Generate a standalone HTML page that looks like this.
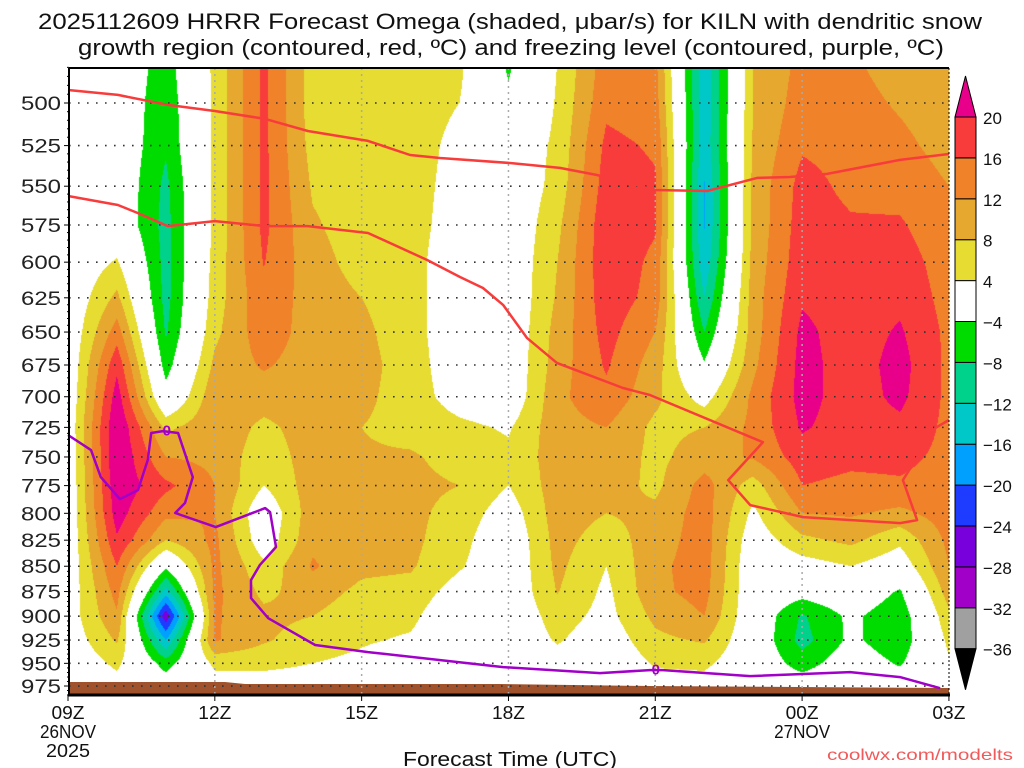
<!DOCTYPE html>
<html><head><meta charset="utf-8">
<style>
html,body{margin:0;padding:0;background:#fff;}
#wrap{position:relative;width:1024px;height:768px;overflow:hidden;background:#fff;}
#cv{position:absolute;left:0;top:0;}
#ov{position:absolute;left:0;top:0;}
text{font-family:"Liberation Sans",sans-serif;}
</style></head>
<body>
<div id="wrap">
<canvas id="cv" width="1024" height="768"></canvas>
<svg id="ov" width="1024" height="768" xmlns="http://www.w3.org/2000/svg"></svg>
</div>
<script>
// ---- data ----
const pressureLevels = [475,500,525,550,575,600,625,650,675,700,725,750,775,800,825,850,875,900,925,950,975,1000];
const hourLabels = ["09Z","12Z","15Z","18Z","21Z","00Z","03Z"];
const yTickLabels = [500,525,550,575,600,625,650,675,700,725,750,775,800,825,850,875,900,925,950,975];
const colorLevels = [-36,-32,-28,-24,-20,-16,-12,-8,-4,4,8,12,16,20];
const bandColors = ["#000000","#a0a0a0","#a000c8","#7800dc","#1e3cff","#00a0ff","#00c8c8","#00d28c","#00dc00","#ffffff","#e6dc32","#e6a82e","#f0822a","#f83c3c","#e8008a"];
const omegaH0  = [0,0,0,0,0,0,0,0,0,0,0.5,0,0,0,0,0.5,1,1.5,1,0,0,0];
const omegaH1  = [0,0,0,0,0,4.5,9,14,19,22,24,24,23,22,19.5,16,13.5,11.5,8.5,5,2,0];
const omegaH2  = [-6,-7,-7.5,-9,-9.5,-9.5,-9.5,-8.5,-6,-2,7,12,17,13,8,-3,-14,-27,-16,-6,-1,0];
const omegaH3  = [5,5,5,5,5,5.5,6,7,9,11,11,11,12,12,13,13,13,12.5,12.5,5,2,0];
const omegaH4  = [17,17,17,17,17,16.2,15,14.5,12.5,10,7,5.5,4,0,1,5,7,9,8.5,5,2,0];
const omegaH5  = [6,6,6.5,7.5,8.5,9.5,10,10,10,10,10,10,10,10.5,11,12.5,10,8,6,4,2,0];
const omegaH6  = [6,6,6,6,6,6.5,8,9,9.5,9,8,8.5,9.5,10,10,9,7,5.5,4.5,3,1,0];
const omegaH7  = [5.5,5.5,5.5,5.5,5.5,5.5,5.5,5.5,6,6,6.5,8.5,9,9,9,8.5,6.5,5,3.5,1,0,0];
const omegaH8  = [5,4,3,2.5,2,1,1,1,1,2,5,6.5,8,6.5,5.5,4.5,2,0,0,0,0,0];
const omegaH9  = [-5,-3,0,0,0,0,0,0,0,0,3.5,5,4,1.5,0,0,0,0,0,0,0,0];
const omegaH10 = [4,4.5,5,5.5,7,8,8.5,9.5,10,11,10.5,10,10,10,9.5,9,8.2,6,4.5,2,0,0];
const omegaH11 = [14,15,17,18,19,19,18.5,17.5,16.5,15,12,10.5,10,8,6,4,3,2.5,1,0,0,0];
const omegaH12 = [13,14,15.5,16.5,16.5,15,14.5,12,10,9,7,7,7,9,10,11,11,9,7,4.5,2,0];
const omegaH13 = [-15,-15,-15,-16.3,-16.3,-15,-12,-8,-3.5,2,8,10,13.5,14,14,14,13.5,12,8.5,5,2,0];
const omegaH14 = [8,8,8.5,9,9,9.5,10,10,11,13,13,12.5,6,3,1,0,0,0,0,0,0,0];
const omegaH15 = [13,14,15.5,17.5,18,18.5,19.5,21,21.5,21.5,20.5,18,16,12,7,2,-2,-8.5,-9.5,-6,-1,0];
const omegaH16 = [12.5,13.5,14.5,15,16.5,18,18,18,18,18,18,17,15,12.5,9,4,0,-3,-3,-1,0,0];
const omegaH17 = [10,11.5,13,14.5,16.5,18,19,20.5,21.5,21,19,17,15.5,11,5,1,-4.5,-7,-7,-4.5,-1,0];
const omegaH18 = [9,9.5,10.5,12,13,14,14.5,15,15,15,15,15,14.5,14,13,12,10,7,5,3.5,1,0];
const omegaByHour = [omegaH0,omegaH1,omegaH2,omegaH3,omegaH4,omegaH5,omegaH6,omegaH7,omegaH8,omegaH9,omegaH10,omegaH11,omegaH12,omegaH13,omegaH14,omegaH15,omegaH16,omegaH17,omegaH18];
// contour traces (forecast hour, pressure hPa)
const dgzUpperHours = [0,1.02,2.04,3.0,4.03,4.9,6.13,6.99,7.6,9.03,10.05,10.81,11.99,13.06,14.08,14.75,15.51,17.0,18.0];
const dgzUpperPres  = [492.6,495.4,501.1,504.6,509.2,516.3,522.2,530.7,532.5,535.6,538.6,543.0,552.4,553.0,544.8,544.2,542.3,533.7,530.1];
const dgzLowerHours = [0,1.02,1.43,2.04,3.0,4.03,4.9,6.13,7.34,8.01,8.48,8.89,9.38,9.99,11.34,11.89,14.2,13.49,13.94,15.02,17.0,17.35,17.06,17.72,18.0];
const dgzLowerPres  = [556.2,562.0,567.2,575.7,572.4,575.7,575.7,580.3,598.5,610.3,618.0,630.1,654.5,673.4,693.0,698.6,737.4,770.1,792.5,803.5,809.0,806.2,770.1,725.6,718.9];
const frzHours = [0,0.47,0.67,1.06,1.43,1.63,1.7,1.94,2.25,2.55,2.39,2.19,3.02,4.03,4.13,4.25,3.92,3.74,3.74,4.09,5.05,6.13,8.89,10.87,11.89,12.16,13.94,15.98,17.0,17.82];
const frzPres  = [731.4,744.1,767.5,787.0,778.9,752.5,729.7,728.1,729.7,767.5,790.6,799.7,812.7,795.2,798.9,831.5,848.9,863.6,881.6,902.1,930.3,937.9,954.1,960.7,957.4,957.4,964.0,959.6,965.1,977.4];
const frzLabelHours = [2.02,12.01];
const frzLabelPres = [726.6,955.8];

// ---- geometry ----
const X0 = 68, PXH = 48.94;
function xOf(h){ return X0 + PXH*h; }
function yOf(p){ return 103 + 873*Math.log(p/500); }
const PL = 69, PR = 949, PT = 68, PB = 695;

// ---- shading ----
(function(){
  const cv = document.getElementById('cv');
  const ctx = cv.getContext('2d');
  const W = PR-PL, H = PB-PT;
  const img = ctx.createImageData(W, H);
  const rowY = pressureLevels.map(yOf);
  const rgb = bandColors.map(c=>[parseInt(c.substr(1,2),16),parseInt(c.substr(3,2),16),parseInt(c.substr(5,2),16)]);
  const nH = omegaByHour.length;
  for (let py=0; py<H; py++){
    const y = PT+py+0.5;
    let j=0; while (j<rowY.length-2 && rowY[j+1]<y) j++;
    const t = Math.max(0,Math.min(1,(y-rowY[j])/(rowY[j+1]-rowY[j])));
    for (let px=0; px<W; px++){
      const x = PL+px+0.5;
      let hf = (x-X0)/PXH; if (hf<0) hf=0; if (hf>nH-1) hf=nH-1;
      let i = Math.floor(hf); if (i>=nH-1) i=nH-2;
      const s = hf-i;
      const a = omegaByHour[i][j]*(1-t)+omegaByHour[i][j+1]*t;
      const b = omegaByHour[i+1][j]*(1-t)+omegaByHour[i+1][j+1]*t;
      const v = a*(1-s)+b*s;
      let k=0; while (k<colorLevels.length && v>=colorLevels[k]) k++;
      const c = rgb[k]; const o=(py*W+px)*4;
      img.data[o]=c[0]; img.data[o+1]=c[1]; img.data[o+2]=c[2]; img.data[o+3]=255;
    }
  }
  ctx.putImageData(img, PL, PT);
})();

// ---- overlay ----
const NS = "http://www.w3.org/2000/svg";
const svg = document.getElementById('ov');
function mk(tag, attrs, parent){
  const e = document.createElementNS(NS, tag);
  for (const k in attrs) e.setAttribute(k, attrs[k]);
  (parent||svg).appendChild(e); return e;
}
function txt(s, attrs){ const e = mk('text', attrs); e.textContent = s; return e; }

// ground
let g = mk('polygon',{points:"69,682 225,682 245,684 500,684 650,686 949,688 949,695 69,695",fill:"#a0522d"});



// horizontal dotted grid
yTickLabels.forEach(p=>{
  const y = yOf(p);
  const l = mk('line',{x1:PL,x2:PR,y1:y,y2:y,stroke:"#333",'stroke-width':1.6,'stroke-dasharray':"1.6 7.4"});
  
  
});
// vertical dotted grid
[3,6,9,12,15].forEach(h=>{
  const x = xOf(h);
  const l = mk('line',{x1:x,x2:x,y1:PT,y2:PB,stroke:"#aaa",'stroke-width':1.5,'stroke-dasharray':"2 4"});
  
  
});

// contours
function poly(hs, ps, color, w, name){
  const pts = hs.map((h,i)=>xOf(h).toFixed(1)+","+yOf(ps[i]).toFixed(1)).join(" ");
  const e = mk('polyline',{points:pts,fill:"none",stroke:color,'stroke-width':w,'stroke-linejoin':"round"});
  
  
}
poly(dgzUpperHours,dgzUpperPres,"#f83c3c",2.5,'dgz-upper-contour');
poly(dgzLowerHours,dgzLowerPres,"#f83c3c",2.5,'dgz-lower-contour');
poly(frzHours,frzPres,"#a000c8",2.5,'freezing-level-contour');
frzLabelHours.forEach((h,i)=>{
  const t = txt("0",{x:xOf(h),y:yOf(frzLabelPres[i])+6,'font-size':15,'font-weight':'bold',fill:"#a000c8",'text-anchor':"middle"});
  
  
});

// frame
let fr = mk('line',{x1:PL,x2:PR,y1:PT,y2:PT,stroke:"#000",'stroke-width':2});
 
fr = mk('line',{x1:PR,x2:PR,y1:PT,y2:PB,stroke:"#000",'stroke-width':1,'stroke-dasharray':"2 2"});
 
fr = mk('line',{x1:PL,x2:PL,y1:PT,y2:PB+1,stroke:"#000",'stroke-width':2});
 
fr = mk('line',{x1:PL-1,x2:PR+1,y1:PB,y2:PB,stroke:"#000",'stroke-width':3});
 

// y ticks and labels
yTickLabels.forEach(p=>{
  const y = yOf(p);
  const tk = mk('line',{x1:PL-5,x2:PL,y1:y,y2:y,stroke:"#000",'stroke-width':1});
   
  const t = txt(String(p),{x:61,y:y+7,'font-size':19,fill:"#222",'text-anchor':"end",textLength:40,lengthAdjust:"spacingAndGlyphs"});
   
});
for (let p=480;p<=985;p+=5){ if (p%25===0) continue;
  const y=yOf(p); const tk=mk('line',{x1:PL-2,x2:PL,y1:y,y2:y,stroke:"#000",'stroke-width':1});
    }

// x ticks and labels
hourLabels.forEach((lab,i)=>{
  const x = xOf(i*3);
  const tk = mk('line',{x1:x,x2:x,y1:PB,y2:PB+6,stroke:"#000",'stroke-width':1});
   
  const t = txt(lab,{x:x,y:719,'font-size':18,fill:"#111",'text-anchor':"middle",textLength:33,lengthAdjust:"spacingAndGlyphs"});
   
});
let t;
t = txt("26NOV",{x:xOf(0),y:738,'font-size':18,fill:"#111",'text-anchor':"middle",textLength:56,lengthAdjust:"spacingAndGlyphs"});
 
t = txt("2025",{x:xOf(0),y:757,'font-size':18,fill:"#111",'text-anchor':"middle",textLength:44,lengthAdjust:"spacingAndGlyphs"});
 
t = txt("27NOV",{x:xOf(15),y:738,'font-size':18,fill:"#111",'text-anchor':"middle",textLength:56,lengthAdjust:"spacingAndGlyphs"});
 

// titles
t = txt("2025112609 HRRR Forecast Omega (shaded, \u03bcbar/s) for KILN with dendritic snow",{x:510,y:29,'font-size':22,fill:"#111",'text-anchor':"middle",textLength:944,lengthAdjust:"spacingAndGlyphs"});
 
t = txt("growth region (contoured, red, \u00baC) and freezing level (contoured, purple, \u00baC)",{x:511,y:55,'font-size':22,fill:"#111",'text-anchor':"middle",textLength:866,lengthAdjust:"spacingAndGlyphs"});
 
t = txt("Forecast Time (UTC)",{x:510,y:766,'font-size':20,fill:"#111",'text-anchor':"middle",textLength:214,lengthAdjust:"spacingAndGlyphs"});
 
t = txt("coolwx.com/modelts",{x:1013,y:760,'font-size':16,fill:"#f05a5a",'text-anchor':"end",textLength:186,lengthAdjust:"spacingAndGlyphs"});
 

// colorbar
const CBX = 955, CBW = 21, CBT = 117, CBS = 40.9;
for (let k=1;k<bandColors.length-1;k++){
  const top = CBT + (bandColors.length-2-k)*CBS;
  const r = mk('rect',{x:CBX,y:top,width:CBW,height:CBS,fill:bandColors[k],stroke:"#000",'stroke-width':1});
   
}
let tri = mk('polygon',{points:`${CBX},${CBT} ${CBX+CBW},${CBT} ${CBX+CBW/2},${CBT-41}`,fill:bandColors[bandColors.length-1],stroke:"#000",'stroke-width':1});
 
const cbBot = CBT + (bandColors.length-2)*CBS;
tri = mk('polygon',{points:`${CBX},${cbBot} ${CBX+CBW},${cbBot} ${CBX+CBW/2},${cbBot+41}`,fill:bandColors[0],stroke:"#000",'stroke-width':1});
 
colorLevels.forEach((lv,idx)=>{
  const y = CBT + (colorLevels.length-1-idx)*CBS;
  const s = lv<0 ? "\u2212"+Math.abs(lv) : String(lv);
  const tt = txt(s,{x:983,y:y+7,'font-size':17,fill:"#111"});
   
});
</script>
</body></html>
